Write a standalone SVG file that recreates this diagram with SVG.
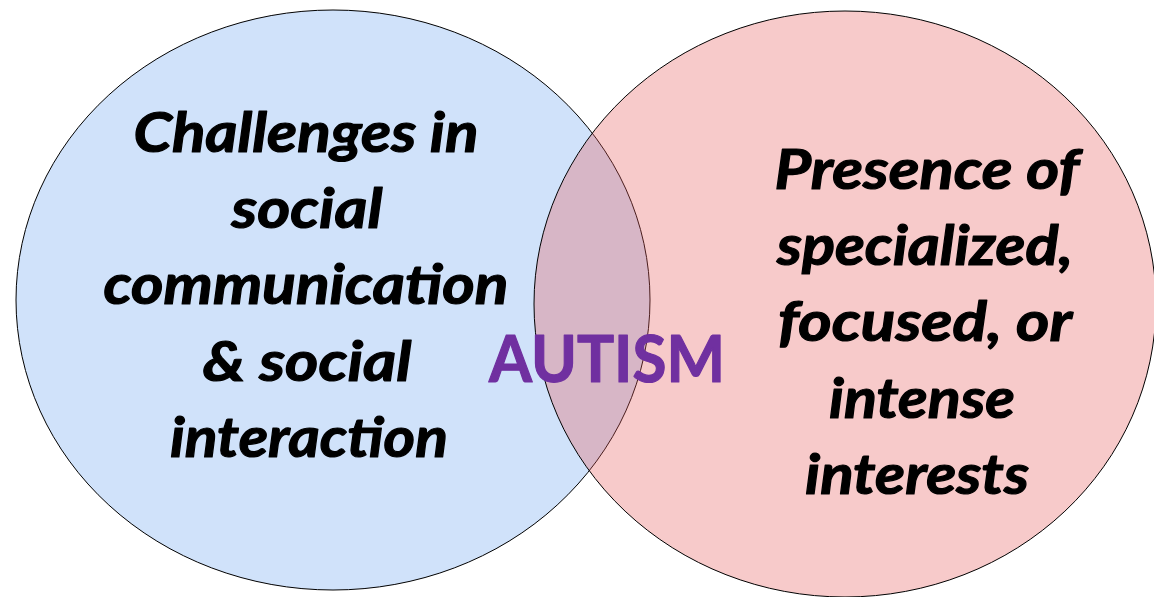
<svg xmlns="http://www.w3.org/2000/svg" width="1154" height="597" viewBox="0 0 1154 597">
  <style>
    .circle { stroke: #000000; stroke-width: 1; }
    .left { fill: #D0E2FA; }
    .right { fill: rgb(230,89,89); fill-opacity: 0.32; }
    .label { font-family: Lato, "Open Sans", "Liberation Sans", sans-serif; font-weight: bold; font-style: italic; font-size: 56px; fill: #000000; stroke: #000000; stroke-width: 1.2; stroke-linejoin: round; text-anchor: middle; }
    .center { font-family: Lato, "Open Sans", "Liberation Sans", sans-serif; font-weight: bold; font-size: 65px; fill: #7030A0; stroke: #7030A0; stroke-width: 1.2; stroke-linejoin: round; text-anchor: middle; }
  </style>
  <rect width="1154" height="597" fill="#FFFFFF"/>
  <g id="node-social">
    <ellipse class="circle left" cx="333" cy="300" rx="317" ry="290"/>
  </g>
  <g id="node-interests">
    <ellipse class="circle right" cx="845" cy="304" rx="311" ry="293"/>
  </g>
  <g id="connectors"></g>
  <g id="labels-social">
    <text class="label" x="306" y="152" textLength="345" lengthAdjust="spacingAndGlyphs">Challenges in</text>
    <text class="label" x="307" y="228" textLength="151" lengthAdjust="spacingAndGlyphs">social</text>
    <text class="label" x="306" y="304" textLength="405" lengthAdjust="spacingAndGlyphs">communication</text>
    <text class="label" x="307" y="381" textLength="209" lengthAdjust="spacingAndGlyphs">&amp; social</text>
    <text class="label" x="309" y="457" textLength="278" lengthAdjust="spacingAndGlyphs">interaction</text>
  </g>
  <g id="labels-interests">
    <text class="label" x="927" y="189" textLength="305" lengthAdjust="spacingAndGlyphs">Presence of</text>
    <text class="label" x="925" y="265" textLength="296" lengthAdjust="spacingAndGlyphs">specialized,</text>
    <text class="label" x="925" y="341" textLength="294" lengthAdjust="spacingAndGlyphs">focused, or</text>
    <text class="label" x="922" y="418" textLength="186" lengthAdjust="spacingAndGlyphs">intense</text>
    <text class="label" x="917" y="494" textLength="224" lengthAdjust="spacingAndGlyphs">interests</text>
  </g>
  <g id="node-autism">
    <text class="center" x="607" y="382" textLength="236" lengthAdjust="spacingAndGlyphs">AUTISM</text>
  </g>
</svg>
